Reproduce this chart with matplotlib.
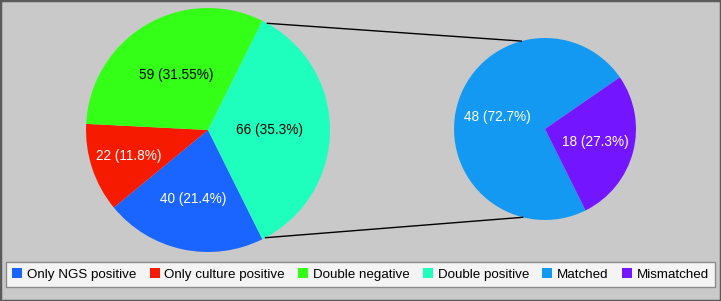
import numpy as np
import matplotlib.pyplot as plt
from matplotlib.patches import ConnectionPatch, Rectangle

plt.rcParams['font.family'] = ['Liberation Sans', 'DejaVu Sans']

# left pie
left_names = ['Only NGS positive', 'Only culture positive', 'Double negative', 'Double positive']
left_vals = [40, 22, 59, 66]
left_labels = ['40 (21.4%)', '22 (11.8%)', '59 (31.55%)', '66 (35.3%)']
left_colors = ['#1A64FF', '#F51A00', '#33FF17', '#1EFFBE']
left_txt = ['white', 'white', 'black', 'black']
left_dist = [0.58, 0.68, 0.52, 0.5]

# right pie
right_names = ['Matched', 'Mismatched']
right_vals = [48, 18]
right_labels = ['48 (72.7%)', '18 (27.3%)']
right_colors = ['#1499F2', '#7316FF']
right_txt = ['white', 'white']
right_dist = [0.54, 0.57]

bg = '#C9C9C9'
fig = plt.figure(figsize=(7.21, 3.01), dpi=100, facecolor=bg)

start = -360 * left_vals[-1] / sum(left_vals) / 2

ax1 = fig.add_axes([0.1193, 0.1628, 0.3384, 0.8106])
ax2 = fig.add_axes([0.6297, 0.2691, 0.2524, 0.6047])


def draw_pie(ax, vals, labels, colors, txtc, dist):
    wedges, _ = ax.pie(vals, colors=colors, startangle=start, counterclock=False)
    for w, lab, c, d in zip(wedges, labels, txtc, dist):
        mid = np.deg2rad((w.theta1 + w.theta2) / 2)
        ax.text(d * np.cos(mid), d * np.sin(mid), lab, ha='center', va='center',
                color=c, fontsize=9.8)
    ax.set_xlim(-1, 1)
    ax.set_ylim(-1, 1)
    ax.set_aspect('equal')
    ax.axis('off')
    return wedges


w1 = draw_pie(ax1, left_vals, left_labels, left_colors, left_txt, left_dist)
w2 = draw_pie(ax2, right_vals, right_labels, right_colors, right_txt, right_dist)

# connector lines
for a1, a2 in [(61, 105), (-62, -104)]:
    p1 = (np.cos(np.deg2rad(a1)), np.sin(np.deg2rad(a1)))
    p2 = (np.cos(np.deg2rad(a2)), np.sin(np.deg2rad(a2)))
    con = ConnectionPatch(xyA=p1, coordsA=ax1.transData, xyB=p2, coordsB=ax2.transData,
                          color='black', lw=1.0)
    fig.add_artist(con)

handles = list(w1) + list(w2)
leg = fig.legend(handles, left_names + right_names, loc='center', ncol=6,
                 bbox_to_anchor=(0.5, 0.088), fontsize=9.6, frameon=True, fancybox=False,
                 handlelength=0.75, handleheight=0.75, handletextpad=0.35,
                 columnspacing=1.0, borderpad=0.45)
leg.get_frame().set_edgecolor('#777777')
leg.get_frame().set_linewidth(1.0)
leg.get_frame().set_facecolor('white')
for h in leg.legend_handles:
    h.set_edgecolor('none')

fig.add_artist(Rectangle((0, 0), 1, 1, transform=fig.transFigure, fill=False,
                         edgecolor='#5A5A5A', lw=2.5))

fig.savefig('out.png', dpi=100, facecolor=bg)
